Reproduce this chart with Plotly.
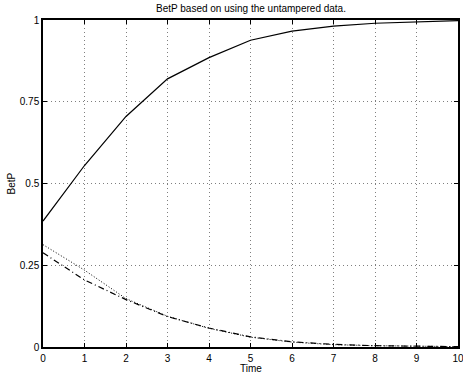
import plotly.graph_objects as go

time = [0, 1, 2, 3, 4, 5, 6, 7, 8, 9, 10]
betp_solid = [0.385, 0.555, 0.705, 0.82, 0.885, 0.938, 0.966, 0.981, 0.99, 0.995, 0.998]
betp_dashdot = [0.288, 0.205, 0.145, 0.093, 0.058, 0.031, 0.016, 0.008, 0.004, 0.002, 0.001]
betp_dotted = [0.313, 0.235, 0.148, 0.094, 0.057, 0.03, 0.015, 0.007, 0.004, 0.002, 0.001]
y_ticks = [0, 0.25, 0.5, 0.75, 1]
y_labels = ["0", "0.25", "0.5", "0.75", "1"]

FONT = "Liberation Sans, Arial, Helvetica"

fig = go.Figure()
fig.add_trace(go.Scatter(x=time, y=betp_solid, mode="lines", line=dict(color="black", width=1.2, dash="solid")))
fig.add_trace(go.Scatter(x=time, y=betp_dashdot, mode="lines", line=dict(color="black", width=1.2, dash="6px,3px,1px,3px")))
fig.add_trace(go.Scatter(x=time, y=betp_dotted, mode="lines", line=dict(color="black", width=1, dash="1px,2px")))

axis_common = dict(
    showline=True, linecolor="black", linewidth=1.5, mirror="ticks",
    ticks="inside", ticklen=4, tickcolor="black",
    showgrid=True, gridcolor="rgba(0,0,0,0.5)", griddash="1px,3px", gridwidth=1,
    zeroline=False, automargin=False, ticklabeloverflow="allow",
    tickfont=dict(family=FONT, size=10, color="black"),
)
fig.update_layout(
    width=463, height=378,
    margin=dict(l=43, r=5, t=20, b=31, autoexpand=False),
    paper_bgcolor="white", plot_bgcolor="white",
    showlegend=False,
    font=dict(family=FONT, size=10, color="black"),
    annotations=[
        dict(text="BetP based on using the untampered data.", xref="paper", yref="paper",
             x=0.5, y=1, yshift=4, xanchor="center", yanchor="bottom", showarrow=False,
             font=dict(family=FONT, size=10, color="black")),
        dict(text="Time", xref="paper", yref="paper", x=0.5, y=0, yshift=-14,
             xanchor="center", yanchor="top", showarrow=False,
             font=dict(family=FONT, size=10, color="black")),
        dict(text="BetP", xref="paper", yref="paper", x=0, xshift=-32, y=0.5,
             xanchor="center", yanchor="middle", textangle=-90, showarrow=False,
             font=dict(family=FONT, size=10, color="black")),
    ],
)
fig.update_xaxes(range=[0, 10], tickvals=time, ticktext=[str(t) for t in time], ticklabelstandoff=1, **axis_common)
fig.update_yaxes(range=[0, 1], tickvals=y_ticks, ticktext=y_labels, **axis_common)
fig.write_html("out.html", config={"displayModeBar": False},
               post_script="document.body.style.margin='0';document.body.style.overflow='hidden';")
